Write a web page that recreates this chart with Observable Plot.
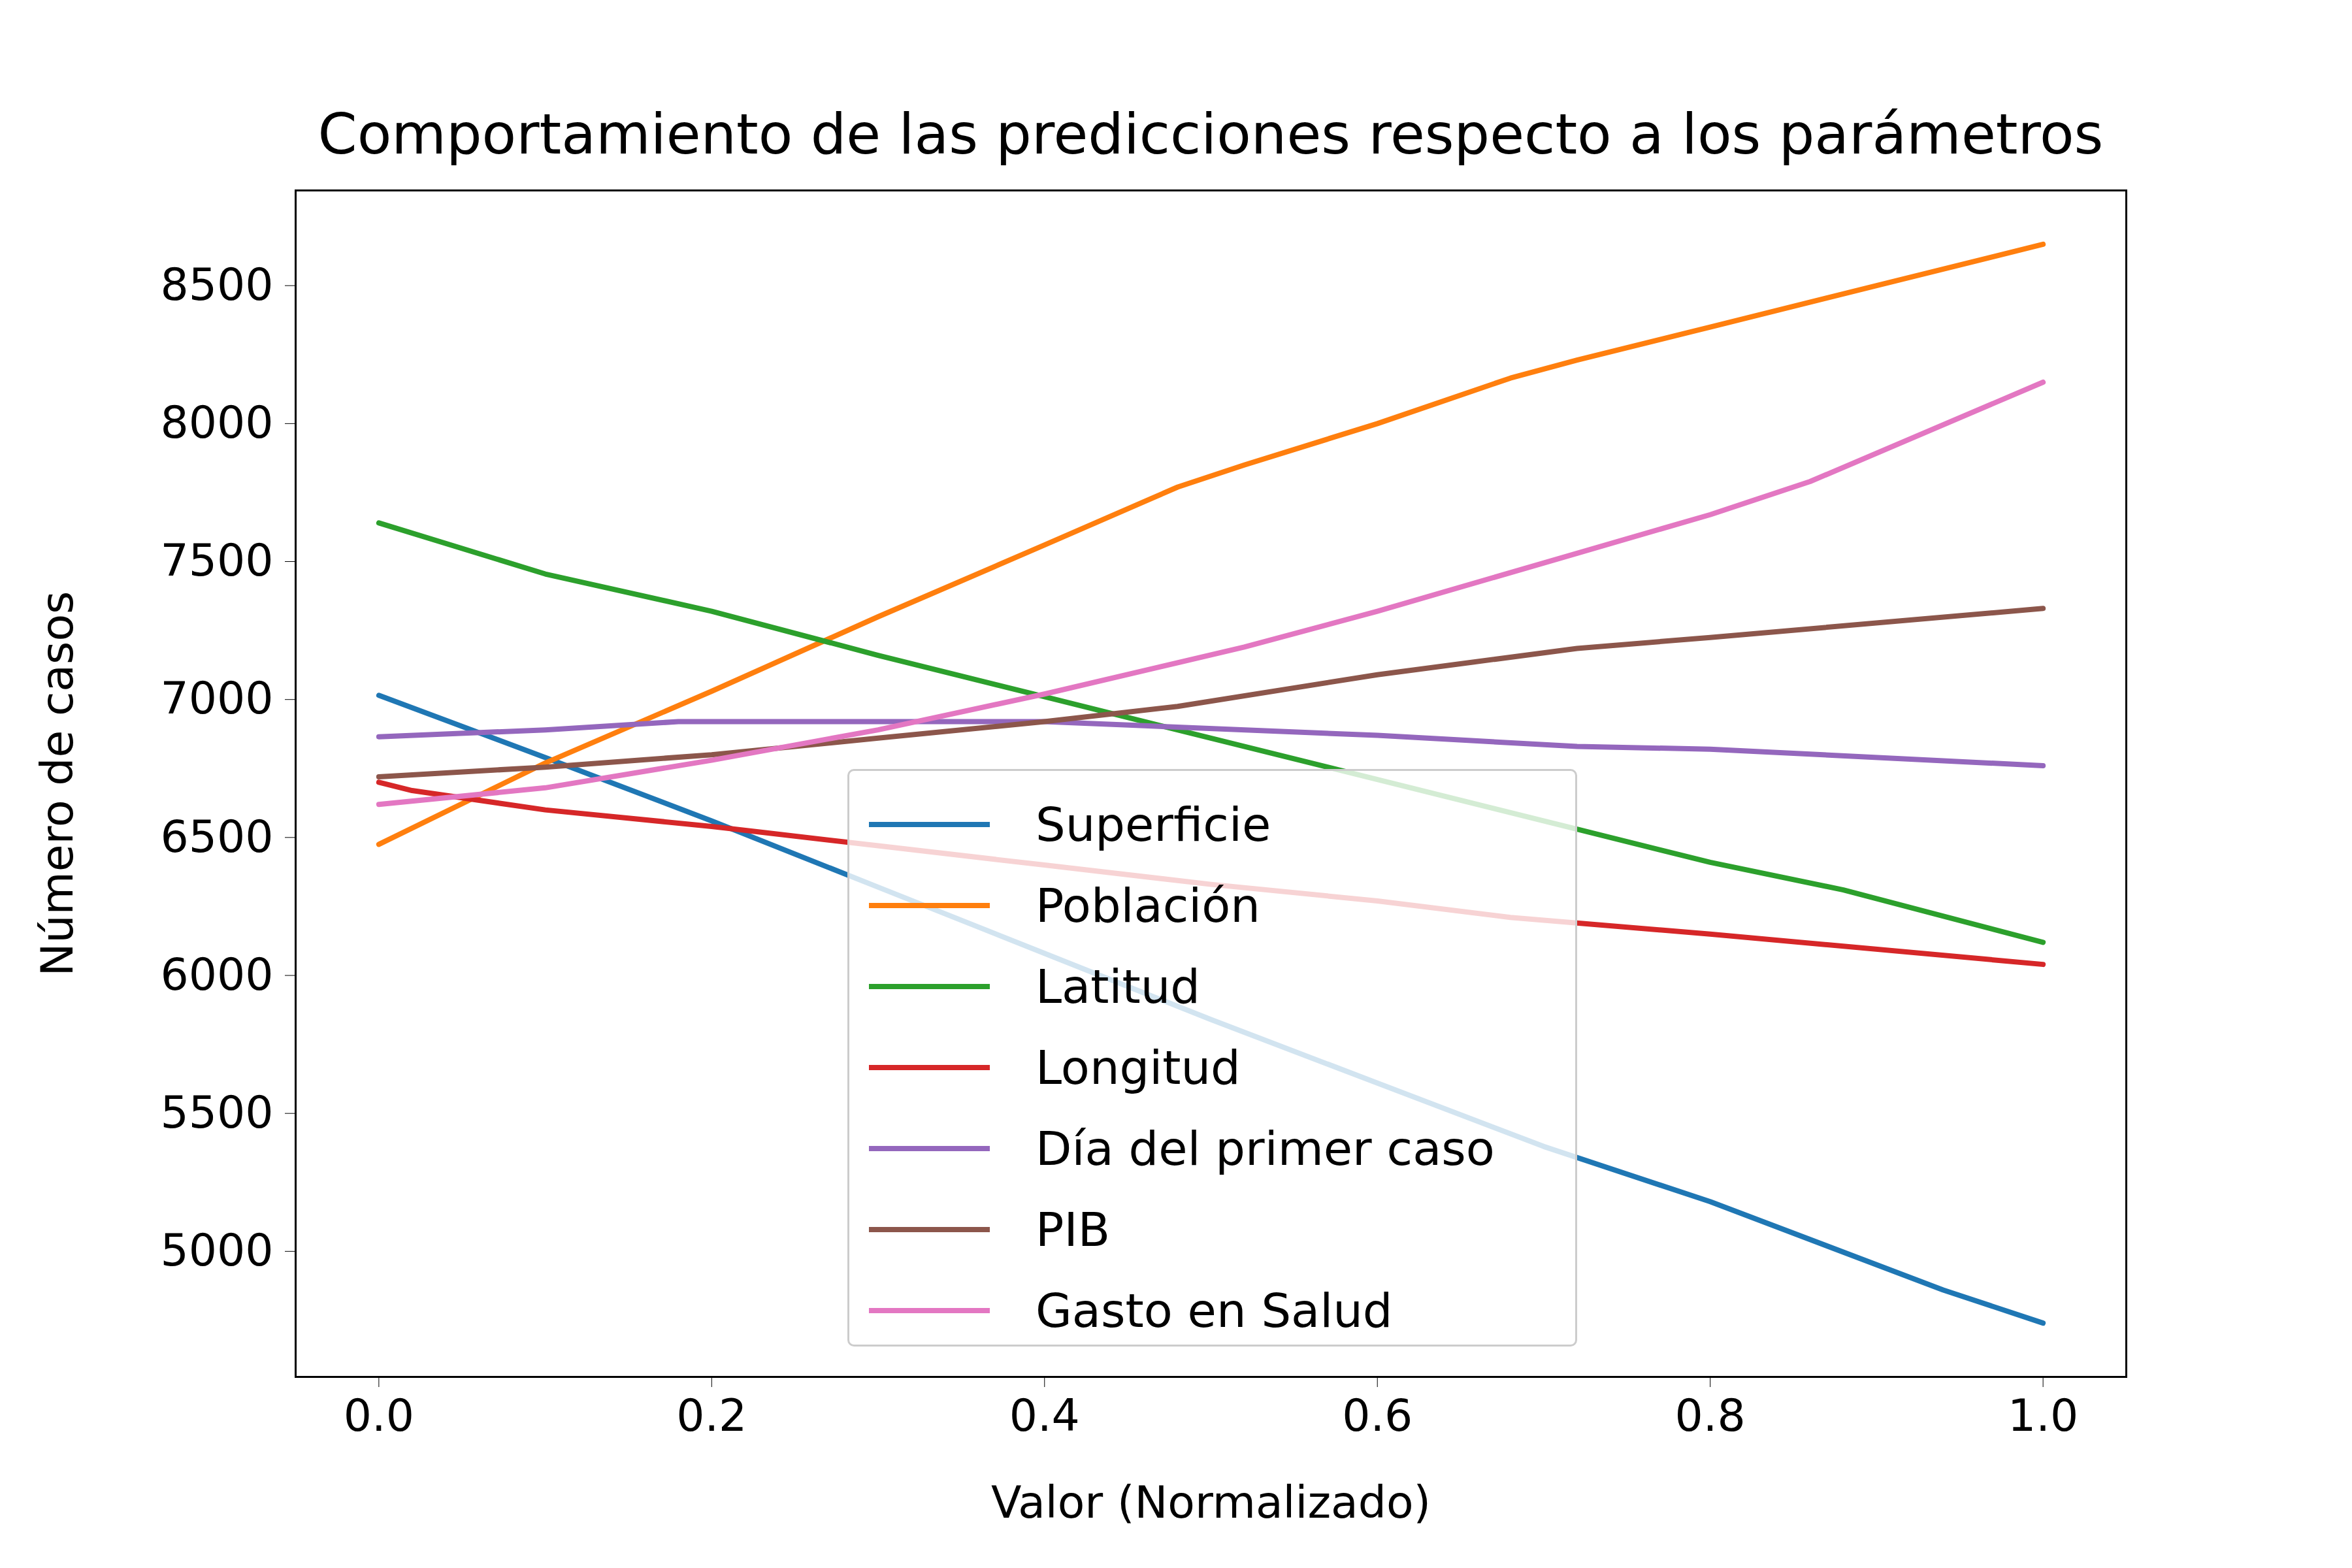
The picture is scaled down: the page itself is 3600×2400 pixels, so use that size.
<!DOCTYPE html>
<html>
<head>
<meta charset="utf-8">
<script src="https://cdn.jsdelivr.net/npm/d3@7"></script>
<script src="https://cdn.jsdelivr.net/npm/@observablehq/plot@0.6"></script>
<style>
  body { margin: 0; background: #fff; font-family: "DejaVu Sans", sans-serif; }
  #wrap { position: relative; width: 3600px; height: 2400px; }
  #title { position: absolute; top: 155px; left: 0px; width: 3706px; text-align: center; white-space: nowrap; font-size: 86px; color: #000; }
  #chart { position: absolute; top: 0; left: 0; }
  #legend { position: absolute; left: 1297px; top: 1177px; width: 1117px; height: 884px; box-sizing: border-box;
    background: rgba(255,255,255,0.8); border: 3px solid #ccc; border-radius: 10px; padding: 20px 30px; }
  .item { display: flex; align-items: center; height: 124px; font-size: 72px; }
  .swatch { width: 185px; height: 8px; margin-right: 70px; }
</style>
</head>
<body>
<div id="wrap">
  <div id="chart"></div>
  <div id="title">Comportamiento de las predicciones respecto a los parámetros</div>
  <div id="legend"></div>
</div>
<script>
const names = ["Superficie", "Población", "Latitud", "Longitud", "Día del primer caso", "PIB", "Gasto en Salud"];
const colors = ["#1f77b4", "#ff7f0e", "#2ca02c", "#d62728", "#9467bd", "#8c564b", "#e377c2"];

const superficieX = [0, 0.1, 0.2, 0.3, 0.4, 0.5, 0.6, 0.7, 0.8, 0.94, 1.0];
const superficieY = [7015, 6790, 6560, 6320, 6080, 5840, 5610, 5380, 5180, 4860, 4740];
const poblacionX = [0, 0.1, 0.2, 0.3, 0.4, 0.48, 0.52, 0.6, 0.68, 0.72, 0.8, 0.9, 1.0];
const poblacionY = [6475, 6770, 7030, 7300, 7560, 7770, 7850, 8000, 8165, 8230, 8350, 8500, 8650];
const latitudX = [0, 0.1, 0.2, 0.3, 0.4, 0.5, 0.6, 0.72, 0.8, 0.88, 1.0];
const latitudY = [7640, 7455, 7320, 7160, 7010, 6860, 6710, 6530, 6410, 6310, 6120];
const longitudX = [0, 0.02, 0.1, 0.2, 0.3, 0.4, 0.5, 0.6, 0.68, 0.8, 1.0];
const longitudY = [6700, 6670, 6600, 6540, 6470, 6400, 6330, 6270, 6210, 6150, 6040];
const diaX = [0, 0.1, 0.18, 0.3, 0.4, 0.46, 0.6, 0.72, 0.8, 1.0];
const diaY = [6865, 6890, 6920, 6920, 6920, 6905, 6870, 6830, 6820, 6760];
const pibX = [0, 0.1, 0.2, 0.3, 0.4, 0.48, 0.6, 0.72, 0.8, 1.0];
const pibY = [6720, 6755, 6800, 6860, 6920, 6975, 7090, 7185, 7225, 7330];
const gastoX = [0, 0.1, 0.2, 0.3, 0.4, 0.52, 0.6, 0.72, 0.8, 0.86, 1.0];
const gastoY = [6620, 6680, 6780, 6890, 7020, 7190, 7320, 7530, 7670, 7790, 8150];

const xTicks = [0, 0.2, 0.4, 0.6, 0.8, 1.0];
const yTicks = [5000, 5500, 6000, 6500, 7000, 7500, 8000, 8500];

const seriesX = [superficieX, poblacionX, latitudX, longitudX, diaX, pibX, gastoX];
const seriesY = [superficieY, poblacionY, latitudY, longitudY, diaY, pibY, gastoY];
const rows = [];
names.forEach((n, i) => seriesX[i].forEach((x, j) => rows.push({ serie: n, x, y: seriesY[i][j] })));

const chart = Plot.plot({
  width: 3600,
  height: 2400,
  marginLeft: 452,
  marginRight: 346,
  marginTop: 291,
  marginBottom: 293,
  style: { fontFamily: "DejaVu Sans", fontSize: "68px", color: "#000", background: "#fff" },
  x: { domain: [-0.05, 1.05], ticks: xTicks, tickFormat: d3.format(".1f"), tickSize: 16, tickPadding: 18,
       label: "Valor (Normalizado)", labelArrow: "none", labelAnchor: "center", labelOffset: 215 },
  y: { domain: [4545, 8845], ticks: yTicks, tickFormat: d => String(d), tickSize: 16, tickPadding: 18,
       label: "Número de casos", labelArrow: "none", labelAnchor: "center", labelOffset: 390 },
  color: { domain: names, range: colors },
  marks: [
    Plot.line(rows, { x: "x", y: "y", z: "serie", stroke: "serie", strokeWidth: 8 }),
    Plot.frame({ stroke: "#000", strokeWidth: 3 })
  ]
});
document.getElementById("chart").append(chart);

const legend = document.getElementById("legend");
names.forEach((n, i) => {
  const d = document.createElement("div");
  d.className = "item";
  d.innerHTML = `<span class="swatch" style="background:${colors[i]}"></span><span>${n}</span>`;
  legend.append(d);
});
</script>
</body>
</html>
